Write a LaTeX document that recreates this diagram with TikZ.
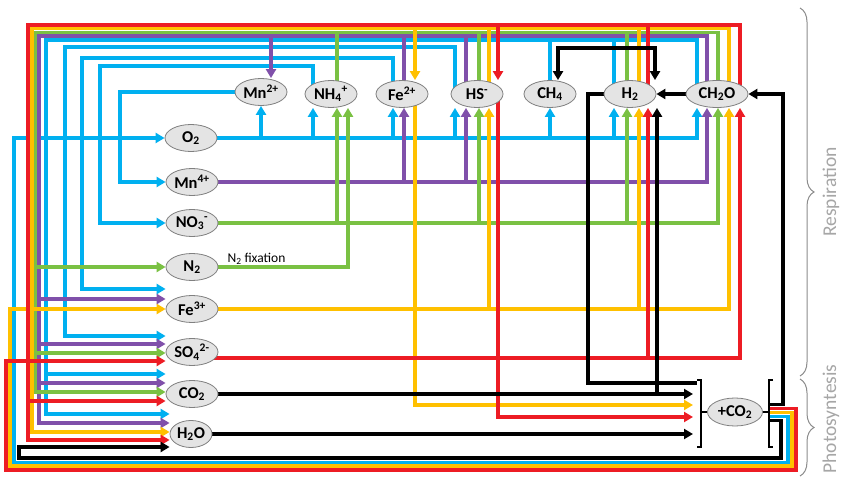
\documentclass[tikz,border=0pt]{standalone}
\usepackage{fontspec}
\setmainfont{Carlito}
\usetikzlibrary{shapes.geometric,arrows.meta,decorations.pathreplacing,backgrounds}
\definecolor{cB}{RGB}{0,176,240}
\definecolor{cP}{RGB}{128,80,170}
\definecolor{cG}{RGB}{122,193,67}
\definecolor{cY}{RGB}{255,192,0}
\definecolor{cR}{RGB}{237,28,36}
\definecolor{elfill}{RGB}{228,228,228}
\definecolor{elline}{RGB}{128,128,128}
\definecolor{lbl}{RGB}{166,166,166}
\definecolor{brc}{RGB}{140,140,140}
\begin{document}
\begin{tikzpicture}[x=1pt,y=-1pt,
  el/.style={ellipse,draw=elline,line width=0.8pt,fill=elfill,minimum width=52pt,minimum height=27pt,inner sep=-2pt,font=\fontsize{16.5}{18}\selectfont\bfseries},
  ln/.style={line width=3.5pt},
  arr/.style={-{Triangle[length=9pt,width=10pt]}},
  arrs/.style={{Triangle[length=9pt,width=10pt]}-{Triangle[length=9pt,width=10pt]}},
  brk/.style={line width=1.3pt},
  brace/.style={decorate,decoration={brace,amplitude=14pt},line width=1pt,draw=brc},
  side/.style={rotate=90,anchor=base,text=lbl,font=\fontsize{19.5}{22}\selectfont}]
\useasboundingbox (0,0) rectangle (843,478);
% nodes
\node[el] (Mn2) at (261,92) {Mn\textsuperscript{2+}};
\node[el] (NH4) at (331,94) {NH\textsubscript{4}\textsuperscript{+}};
\node[el] (Fe2) at (402,94) {Fe\textsuperscript{2+}};
\node[el] (HS) at (477,94) {HS\textsuperscript{-}};
\node[el] (CH4) at (550,94) {CH\textsubscript{4}};
\node[el] (H2) at (630,94) {H\textsubscript{2}};
\node[el,minimum width=62pt] (CH2O) at (717,94) {CH\textsubscript{2}O};
\node[el] (O2) at (191,138) {O\textsubscript{2}};
\node[el] (Mn4) at (192,182) {Mn\textsuperscript{4+}};
\node[el] (NO3) at (192,223) {NO\textsubscript{3}\textsuperscript{-}};
\node[el] (N2) at (192,267) {N\textsubscript{2}};
\node[el] (Fe3) at (192,309) {Fe\textsuperscript{3+}};
\node[el] (SO4) at (192,352) {SO\textsubscript{4}\textsuperscript{2-}};
\node[el] (CO2) at (192,394) {CO\textsubscript{2}};
\node[el,minimum width=42pt] (H2O) at (191,434) {H\textsubscript{2}O};
\node[el,minimum width=55pt,minimum height=28pt] (PCO2) at (735,412) {+CO\textsubscript{2}};
\coordinate (bl) at (693,0);
\coordinate (br) at (769,0);
% labels
\node[font=\fontsize{13.5}{15}\selectfont,anchor=base west] (fix) at (224,262) {N\textsubscript{2} fixation};
\node[side] (resp) at (836,192) {Respiration};
\node[side] (photo) at (836,419) {Photosyntesis};
% braces and brackets
\draw[brace] (800,8) -- (800,376);
\draw[brace] (800,379) -- (800,476);
\draw[brk] (697,380) -- (701,380) -- (701,447) -- (697,447);
\draw[brk] (701,412) -- (PCO2.west);
\draw[brk] (773,380) -- (769,380) -- (769,447) -- (773,447);
\draw[brk] (PCO2.east) -- (769,412);
\begin{scope}[on background layer]
\fill[white] (0,0) rectangle (843,478);
% ---------- BLUE ----------
\draw[ln,cB,arr] (O2.east) -- (697,138) -- (697,0 |- CH2O.south);
\foreach \x/\N in {261/Mn2,313/NH4,393/Fe2,455/HS,550/CH4,614/H2}
  \draw[ln,cB,arr] (\x,138) -- (\x,0 |- \N.south);
\draw[ln,cB,arr] (697,0 |- CH2O.center) -- (697,40) -- (46,40) -- (46,414) -- (H2O.west |- 0,414);
\draw[ln,cB,arr] (46,374) -- (CO2.west |- 0,374);
\draw[ln,cB] (614,0 |- H2.center) -- (614,40);
\draw[ln,cB] (550,0 |- CH4.center) -- (550,40);
\draw[ln,cB,arr] (455,0 |- HS.center) -- (455,47) -- (65,47) -- (65,336) -- (SO4.west |- 0,336);
\draw[ln,cB,arr] (393,0 |- Fe2.center) -- (393,58) -- (82,58) -- (82,289) -- (Fe3.west |- 0,289);
\draw[ln,cB,arr] (313,0 |- NH4.center) -- (313,66) -- (100,66) -- (100,223) -- (NO3.west);
\draw[ln,cB,arr] (Mn2.west) -- (120,0 |- Mn2.west) -- (120,182) -- (Mn4.west);
\draw[ln,cB,arr] (br |- 0,416.5) -- (788,416.5) -- (788,462.4) -- (14,462.4) -- (14,138) -- (O2.west);
% ---------- PURPLE ----------
\draw[ln,cP,arr] (Mn4.east) -- (707,182) -- (707,0 |- CH2O.south);
\draw[ln,cP,arr] (404,182) -- (404,0 |- Fe2.south);
\draw[ln,cP,arr] (466,182) -- (466,0 |- HS.south);
\draw[ln,cP,arr] (707,0 |- CH2O.center) -- (707,36.1) -- (39,36.1) -- (39,423) -- (H2O.west |- 0,423);
\draw[ln,cP,arr] (39,299) -- (Fe3.west |- 0,299);
\draw[ln,cP,arr] (39,344) -- (SO4.west |- 0,344);
\draw[ln,cP,arr] (39,383) -- (CO2.west |- 0,383);
\draw[ln,cP] (404,0 |- Fe2.center) -- (404,36.1);
\draw[ln,cP] (466,0 |- HS.center) -- (466,36.1);
\draw[ln,cP,arr] (271,36.1) -- (271,0 |- Mn2.north);
% ---------- GREEN ----------
\draw[ln,cG,arr] (NO3.east) -- (718,223) -- (718,0 |- CH2O.south);
\draw[ln,cG,arr] (337,223) -- (337,0 |- NH4.south);
\draw[ln,cG,arr] (479,223) -- (479,0 |- HS.south);
\draw[ln,cG,arr] (627,223) -- (627,0 |- H2.south);
\draw[ln,cG,arr] (N2.east) -- (348,267) -- (348,0 |- NH4.south);
\draw[ln,cG,arr] (718,0 |- CH2O.center) -- (718,32.4) -- (35.5,32.4) -- (35.5,392) -- (CO2.west |- 0,392);
\draw[ln,cG,arr] (35.5,267) -- (N2.west);
\draw[ln,cG,arr] (35.5,353) -- (SO4.west |- 0,353);
\draw[ln,cG] (337,0 |- NH4.center) -- (337,32.4);
\draw[ln,cG] (479,0 |- HS.center) -- (479,32.4);
\draw[ln,cG] (627,0 |- H2.center) -- (627,32.4);
% ---------- YELLOW ----------
\draw[ln,cY,arr] (Fe3.east) -- (729,309) -- (729,0 |- CH2O.south);
\draw[ln,cY,arr] (489,309) -- (489,0 |- HS.south);
\draw[ln,cY,arr] (639,309) -- (639,0 |- H2.south);
\draw[ln,cY,arr] (729,0 |- CH2O.center) -- (729,28.7) -- (32,28.7) -- (32,432) -- (H2O.west |- 0,432);
\draw[ln,cY] (489,0 |- HS.center) -- (489,28.7);
\draw[ln,cY] (639,0 |- H2.center) -- (639,28.7);
\draw[ln,cY,arr] (415,28.7) -- (415,0 |- Fe2.north);
\draw[ln,cY,arr] (415,0 |- Fe2.center) -- (415,405) -- (bl |- 0,405);
\draw[ln,cY,arr] (br |- 0,412.5) -- (792,412.5) -- (792,466.2) -- (10,466.2) -- (10,309) -- (Fe3.west);
% ---------- RED ----------
\draw[ln,cR,arr] (SO4.center |- 0,358) -- (740,358) -- (740,0 |- CH2O.south);
\draw[ln,cR,arr] (648,358) -- (648,0 |- H2.south);
\draw[ln,cR,arr] (740,0 |- CH2O.center) -- (740,25) -- (28,25) -- (28,440) -- (H2O.west |- 0,440);
\draw[ln,cR,arr] (28,401) -- (CO2.west |- 0,401);
\draw[ln,cR] (648,0 |- H2.center) -- (648,25);
\draw[ln,cR,arr] (498,25) -- (498,0 |- HS.north);
\draw[ln,cR,arr] (498,0 |- HS.center) -- (498,417) -- (bl |- 0,417);
\draw[ln,cR,arr] (br |- 0,408.5) -- (796,408.5) -- (796,470) -- (6,470) -- (6,361) -- (SO4.west |- 0,361);
% ---------- BLACK ----------
\draw[ln,black,arr] (CH2O.west) -- (H2.east);
\draw[ln,black] (H2.west) -- (588,0 |- H2.west) -- (588,383) -- (697,383);
\draw[ln,black,arr] (CO2.east) -- (bl |- CO2.east);
\draw[ln,black,arr] (657,394) -- (657,0 |- H2.south);
\draw[ln,black,arr] (H2O.east) -- (bl |- H2O.east);
\draw[ln,black,arrs] (558,0 |- CH4.north) -- (558,48) -- (655,48) -- (655,0 |- H2.north);
\draw[ln,black,arr] (br |- 0,404.5) -- (783,404.5) -- (783,0 |- CH2O.east) -- (CH2O.east);
\draw[ln,black,arr] (br |- 0,420.5) -- (781,420.5) -- (781,458) -- (19,458) -- (19,447) -- (H2O.west |- 0,447);
\end{scope}
\end{tikzpicture}
\end{document}
